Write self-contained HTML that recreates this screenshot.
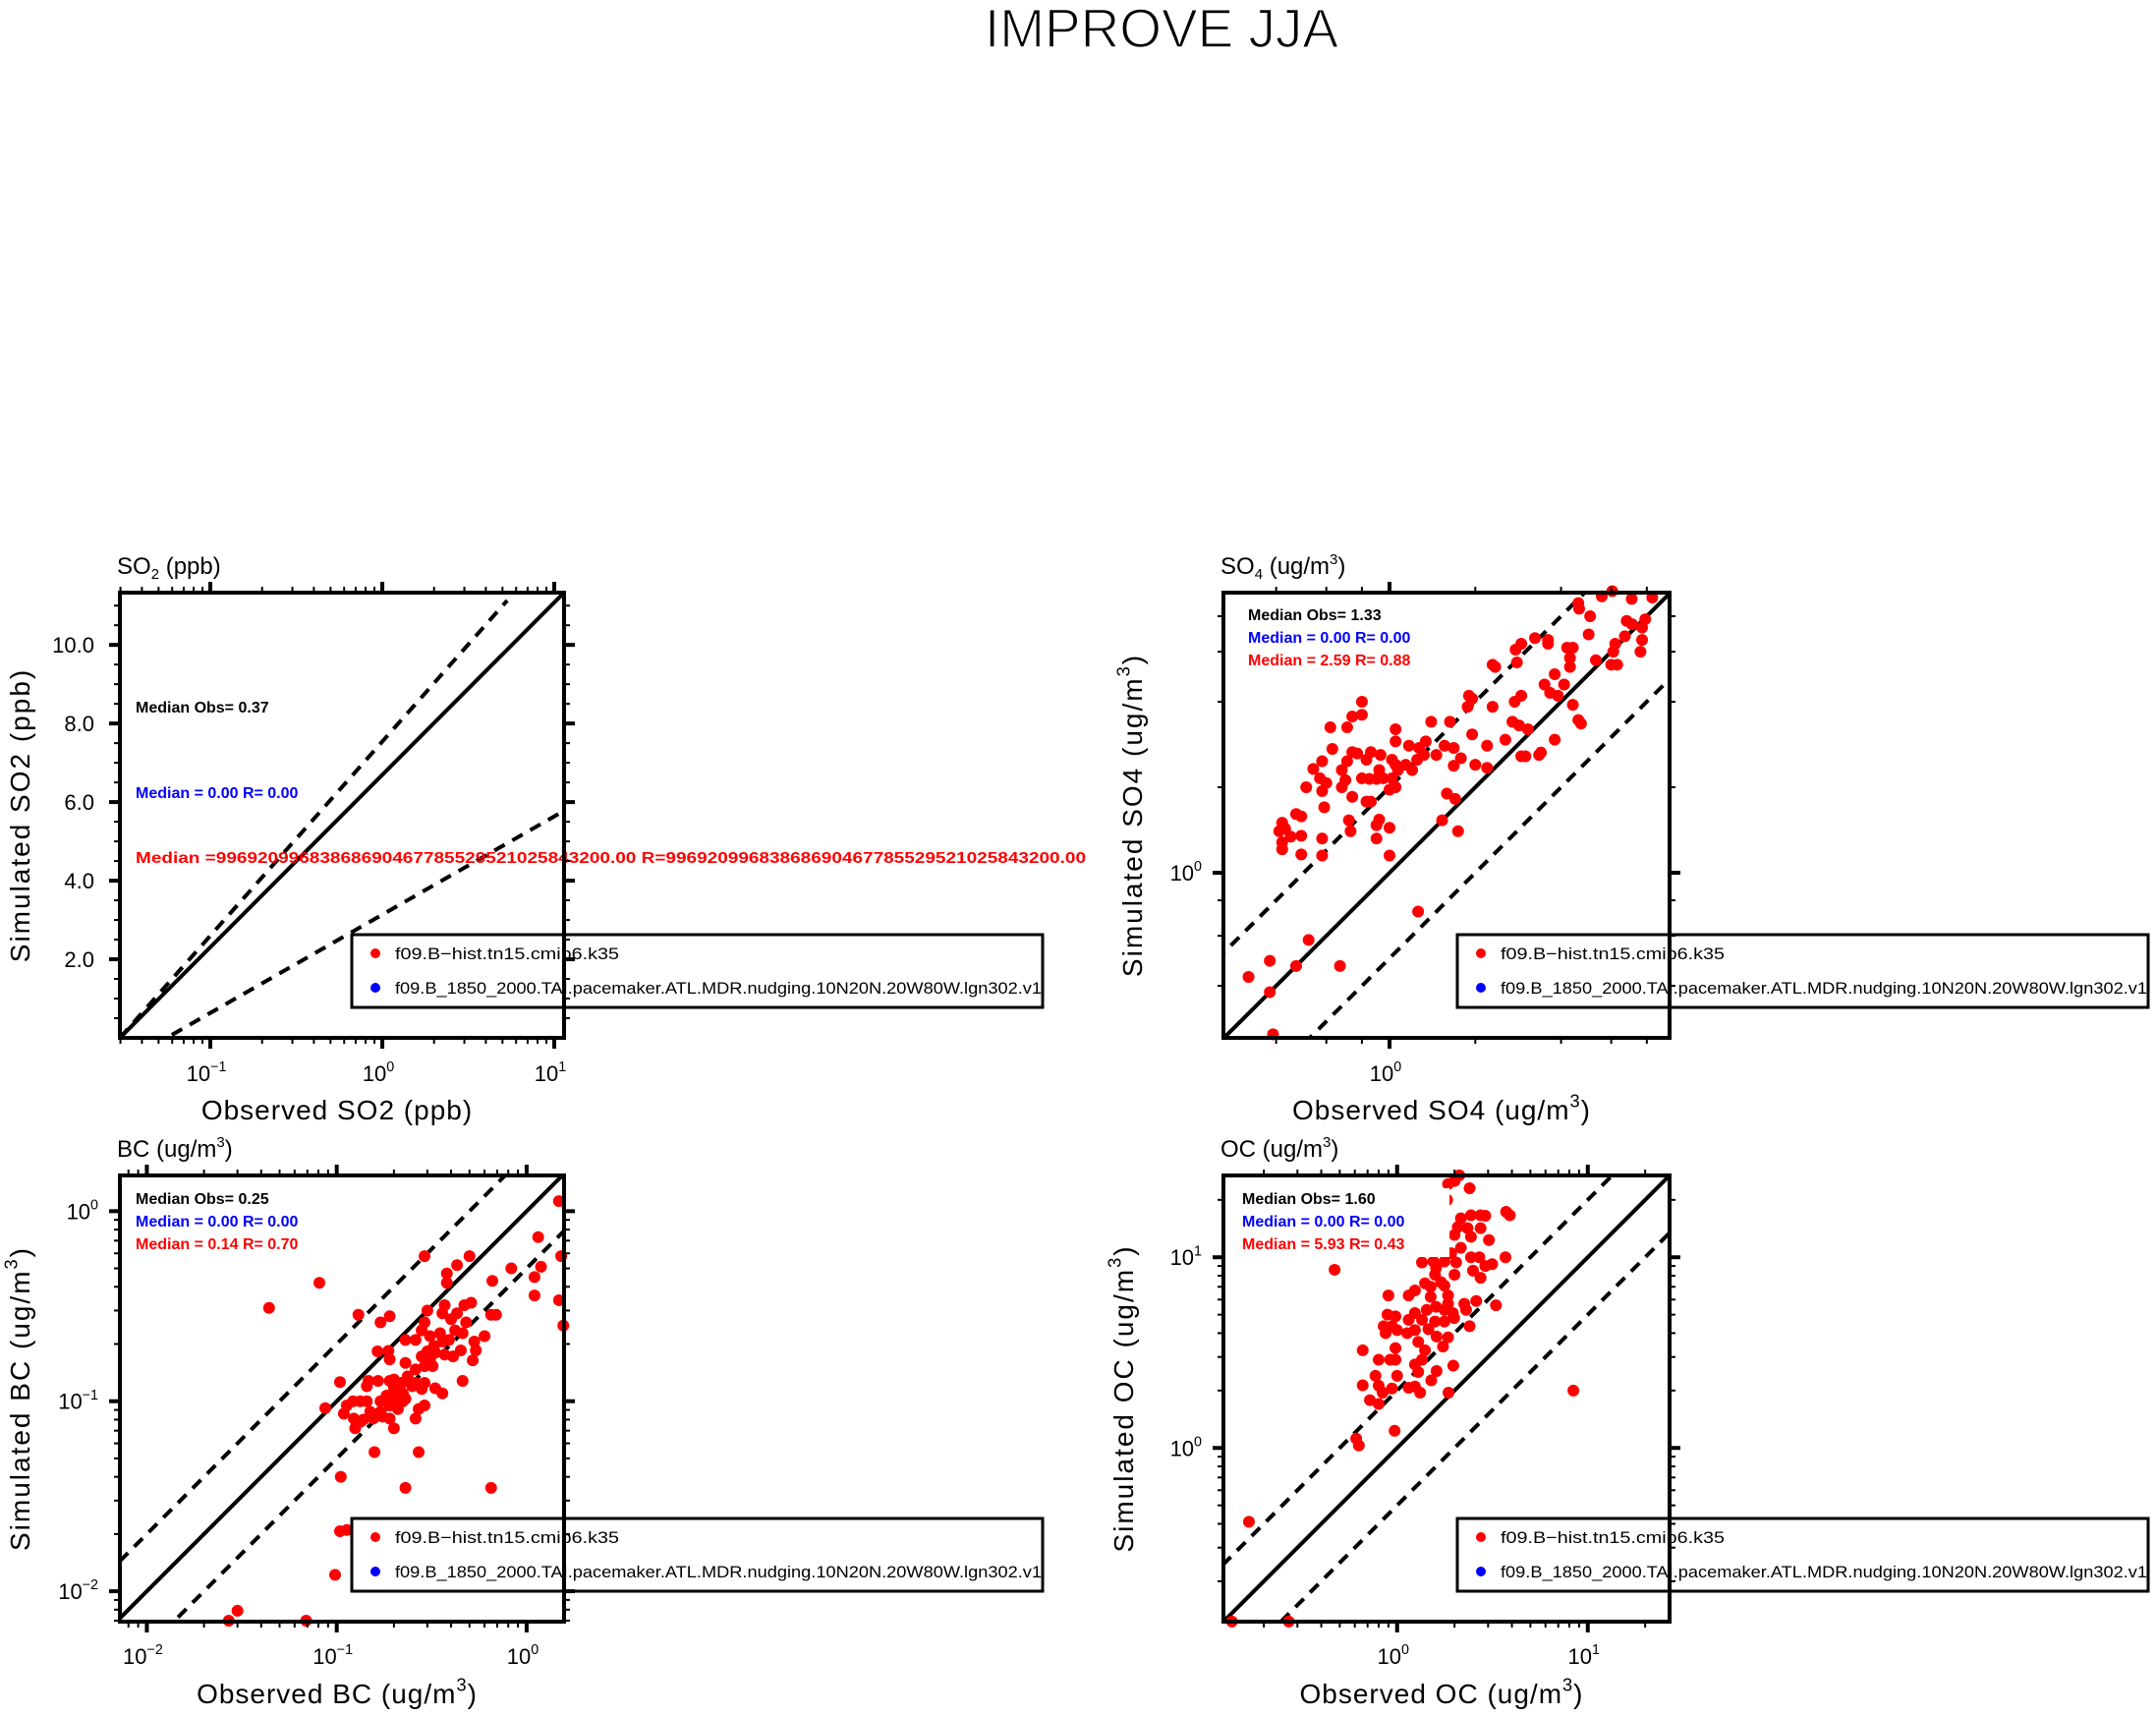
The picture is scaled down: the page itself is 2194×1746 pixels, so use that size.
<!DOCTYPE html>
<html><head><meta charset="utf-8"><style>
html,body{margin:0;padding:0;background:#fff;width:2194px;height:1746px;overflow:hidden}
svg{display:block;font-family:"Liberation Sans",sans-serif}
</style></head><body>
<svg id="fig" width="2194" height="1746" viewBox="0 0 2194 1746" xmlns="http://www.w3.org/2000/svg">
<rect width="2194" height="1746" fill="#fff"/>
<text x="1182" y="48" font-size="56" text-anchor="middle" textLength="360" lengthAdjust="spacingAndGlyphs" fill="#000" stroke="#fff" stroke-width="1.5" font-weight="normal">IMPROVE JJA</text>
<g id="root"></g>
</svg>
<script>
// ---- SO4 data ----
const so4Obs=[6.05,5.56,7.08,8.36,4.63,5.06,4.6,6.8,7.1,7.9,6.7,7.7,7.7,7.6,6.2,6.1,6.3,6.0,5.3,5.0,4.4,4.3,4.3,4.2,3.6,3.6,3.24,2.9,2.77,2.8,2.35,2.3,3.8,3.5,3.66,4.1,3.9,4.4,4.6,4.7,2.9,2.75,1.9,1.95,1.88,2.3,2.7,2.85,3.06,2.55,1.95,1.63,1.4,1.34,1.56,1.68,2.2,1.78,2.0,2.2,1.68,2.9,3.0,3.4,3.8,3.35,1.05,1.05,1.17,1.27,1.46,1.32,1.25,1.14,1.2,1.02,1.05,1.07,1.02,1.0,1.05,0.92,0.93,0.86,0.77,0.74,0.83,0.8,0.8,0.74,0.71,0.62,0.63,0.71,0.68,0.54,0.57,0.58,0.6,0.51,0.58,0.68,0.7,0.74,0.8,0.85,0.9,0.95,0.83,0.86,0.59,0.47,0.49,0.42,0.41,0.43,0.45,0.49,0.42,0.42,0.49,0.58,0.58,0.72,0.73,0.9,0.92,1.0,0.9,1.0,1.59,1.7,1.53,1.74,1.26,0.52,0.38,0.32,0.47,0.67,0.38,0.39];
const so4Sim=[9.8,9.4,9.2,9.3,8.5,8.0,8.9,7.7,7.5,7.8,6.8,7.3,6.6,6.0,6.4,6.0,5.4,5.4,5.6,6.9,6.2,5.7,5.3,6.2,6.6,6.4,6.7,6.4,6.1,5.5,5.3,5.4,5.0,4.6,4.3,4.6,4.2,3.9,3.45,3.35,4.2,4.0,4.2,4.1,3.84,3.84,3.4,3.3,3.2,2.94,3.07,3.4,3.4,2.9,2.8,2.75,2.8,2.53,2.4,2.34,2.38,2.57,2.57,2.65,2.94,2.6,3.2,2.9,2.8,2.75,2.6,2.6,2.5,2.4,2.3,2.5,2.4,2.3,2.15,1.96,2.0,2.3,2.6,2.66,2.63,2.66,2.5,3.6,4.0,3.55,3.25,3.25,2.73,2.47,2.3,2.32,2.15,2.47,2.07,2.0,1.94,2.0,2.12,1.85,2.15,2.14,2.14,2.15,1.78,1.78,1.7,1.61,1.58,1.5,1.4,1.43,1.34,1.35,1.28,1.21,1.16,1.15,1.32,1.53,1.4,1.47,1.54,1.44,1.32,1.15,1.9,1.82,1.53,1.4,0.73,0.58,0.49,0.43,0.47,0.47,0.38,0.27];
// ---- BC data ----
const bcObs=[1.48,1.15,1.52,1.19,1.1,1.1,1.48,1.56,0.83,0.66,0.65,0.69,0.6,0.54,0.52,0.46,0.5,0.43,0.38,0.38,0.29,0.081,0.044,0.13,0.17,0.19,0.37,0.47,0.51,0.43,0.48,0.40,0.3,0.29,0.28,0.36,0.42,0.46,0.53,0.45,0.41,0.37,0.36,0.325,0.30,0.28,0.31,0.29,0.26,0.23,0.26,0.23,0.164,0.187,0.19,0.32,0.29,0.28,0.26,0.236,0.22,0.33,0.36,0.25,0.223,0.2,0.2,0.183,0.19,0.165,0.147,0.144,0.2,0.223,0.23,0.21,0.19,0.17,0.17,0.15,0.144,0.133,0.122,0.113,0.109,0.123,0.133,0.125,0.138,0.156,0.174,0.19,0.2,0.26,0.27,0.29,0.104,0.087,0.158,0.27,0.105,0.23,0.65,0.104,0.113,0.098,0.030,0.027,0.069,0.31,0.35,0.39,0.33];
const bcSim=[1.13,0.73,0.58,0.51,0.45,0.36,0.34,0.25,0.50,0.43,0.285,0.285,0.22,0.185,0.164,0.128,0.58,0.52,0.47,0.42,0.58,0.42,0.31,0.285,0.26,0.28,0.32,0.32,0.33,0.29,0.26,0.27,0.3,0.26,0.236,0.29,0.236,0.228,0.206,0.185,0.172,0.176,0.206,0.195,0.183,0.172,0.165,0.153,0.147,0.159,0.21,0.21,0.183,0.184,0.166,0.153,0.125,0.116,0.125,0.135,0.125,0.117,0.11,0.12,0.11,0.13,0.117,0.107,0.128,0.128,0.128,0.12,0.103,0.1,0.103,0.091,0.095,0.1,0.088,0.088,0.1,0.1,0.1,0.095,0.086,0.081,0.078,0.072,0.08,0.081,0.083,0.081,0.072,0.081,0.091,0.095,0.126,0.092,0.054,0.054,0.040,0.035,0.035,0.0207,0.021,0.0122,0.0079,0.007,0.007,0.22,0.228,0.21,0.18];
// ---- OC data ----
const ocObs=[2.12,2.0,1.85,2.4,1.83,3.73,3.9,2.16,2.44,2.74,2.9,2.08,2.34,2.74,2.0,2.44,3.03,2.16,1.92,2.44,2.7,3.7,3.15,2.9,2.04,1.77,1.55,1.35,1.6,2.0,2.5,2.74,1.58,1.7,1.4,1.5,1.77,1.24,1.15,0.9,1.5,1.85,1.85,1.6,2.25,2.6,3.3,1.43,1.24,0.89,0.98,1.77,1.96,2.3,1.15,1.35,1.58,1.77,1.99,0.85,0.94,0.87,1.0,1.13,1.24,1.46,1.61,1.85,2.4,1.29,0.98,0.66,1.4,1.74,1.35,0.8,0.92,0.98,1.24,1.97,1.61,1.29,0.77,1.0,1.51,0.8,0.66,0.94,1.15,1.24,1.32,0.84,1.86,0.72,0.8,8.4,0.97,0.61,0.63,0.47,0.167,0.136,0.27];
const ocSim=[26.9,25.1,24.2,23,20,17.3,16.6,16,16.6,16.6,16.5,14.4,14.2,14.2,13.1,12.8,12.3,11.2,10.5,10,10,10,9.2,9.0,9.4,9.5,9.5,9.4,8.8,8.1,8.5,7.8,8.1,7.4,7.3,7.0,7.1,6.7,6.3,6.3,6.2,6.3,5.7,5.5,5.7,5.9,5.6,5.3,5.1,5.0,4.9,5.3,5.1,5.3,4.7,4.7,4.6,4.6,4.8,4.35,4.35,4.0,4.15,4.0,4.15,4.2,3.84,3.8,4.35,3.6,3.34,3.25,3.25,3.4,2.9,2.9,2.9,2.9,2.74,2.7,2.53,2.5,2.39,2.39,2.26,2.12,2.13,2.05,2.07,2.1,1.95,1.95,1.95,1.78,1.7,2.0,1.23,1.12,1.03,8.6,0.41,0.123,0.123];
// ---- tick / label arrays ----
const so2YTicks=[2,4,6,8,10];
const so2YLabels=["2.0","4.0","6.0","8.0","10.0"];
const so2XDecades=[-1,0,1];
const so4Decades=[0];
const bcDecades=[-2,-1,0];
const ocDecades=[0,1];

const NS="http://www.w3.org/2000/svg";
const root=document.getElementById('root');
function mk(tag,attrs,parent){const e=document.createElementNS(NS,tag);for(const k in attrs)e.setAttribute(k,attrs[k]);(parent||root).appendChild(e);return e;}

const panels=[
 {key:'so2',x0:122,x1:574,y0:603,y1:1056,xl:[-1.526,1.057],ylin:[0,11.33],xDec:so2XDecades,minorAll:true,
  title:['SO','2',' (ppb)'],titleX:119,titleY:584,ytitle:'Simulated SO2 (ppb)',xtitle:'Observed SO2 (ppb)',xtSup:false,
  stats:[['Median Obs= 0.37','#000',725],['Median = 0.00 R= 0.00','#00f',812],['Median =99692099683868690467785529521025843200.00 R=99692099683868690467785529521025843200.00','#f00',878]],statX:138,legX:358,legY:951},
 {key:'so4',x0:1245,x1:1699,y0:603,y1:1056,xl:[-0.583,0.983],yl:[-0.581,0.986],xDec:so4Decades,yDec:so4Decades,minorAll:false,
  title:['SO','4',' (ug/m','3',')'],titleX:1242,titleY:584,ytitle:'Simulated SO4 (ug/m',xtitle:'Observed SO4 (ug/m',xtSup:true,
  stats:[['Median Obs= 1.33','#000',631],['Median = 0.00 R= 0.00','#00f',654],['Median = 2.59 R= 0.88','#f00',677]],statX:1270,legX:1483,legY:951,
  obs:so4Obs,sim:so4Sim},
 {key:'bc',x0:122,x1:574,y0:1196,y1:1650,xl:[-2.142,0.197],yl:[-2.16,0.188],xDec:bcDecades,yDec:bcDecades,minorAll:true,
  title:['BC (ug/m','3',')'],titleX:119,titleY:1177,ytitle:'Simulated BC (ug/m',xtitle:'Observed BC (ug/m',xtSup:true,
  stats:[['Median Obs= 0.25','#000',1225],['Median = 0.00 R= 0.00','#00f',1248],['Median = 0.14 R= 0.70','#f00',1271]],statX:138,legX:358,legY:1545,
  obs:bcObs,sim:bcSim},
 {key:'oc',x0:1245,x1:1699,y0:1196,y1:1650,xl:[-0.911,1.429],yl:[-0.911,1.429],xDec:ocDecades,yDec:ocDecades,minorAll:true,
  title:['OC (ug/m','3',')'],titleX:1242,titleY:1177,ytitle:'Simulated OC (ug/m',xtitle:'Observed OC (ug/m',xtSup:true,
  stats:[['Median Obs= 1.60','#000',1225],['Median = 0.00 R= 0.00','#00f',1248],['Median = 5.93 R= 0.43','#f00',1271]],statX:1264,legX:1483,legY:1545,
  obs:ocObs,sim:ocSim,whiteBox:true}
];

function sup(t,base,supTxt,size){
  const a=mk('tspan',{},t);a.textContent=base;
  const b=mk('tspan',{dy:-size*0.45,'font-size':size*0.65},t);b.textContent=supTxt;
}
panels.forEach(p=>{
  const g=mk('g',{});
  
  
  const W=p.x1-p.x0,H=p.y1-p.y0;
  const sx=v=>p.x0+(Math.log10(v)-p.xl[0])/(p.xl[1]-p.xl[0])*W;
  const sy=p.ylin?(v=>p.y1-(v-p.ylin[0])/(p.ylin[1]-p.ylin[0])*H):(v=>p.y1-(Math.log10(v)-p.yl[0])/(p.yl[1]-p.yl[0])*H);
  const cid='clip-'+p.key;
  const cp=mk('clipPath',{id:cid},g);mk('rect',{x:p.x0,y:p.y0,width:W,height:H},cp);
  const lg=mk('g',{'clip-path':'url(#'+cid+')'},g);
  if(p.ylin){
    const l1=mk('line',{x1:p.x0,y1:p.y1,x2:p.x1,y2:p.y0,stroke:'#000','stroke-width':4},lg);
    
    const l2=mk('line',{x1:p.x0,y1:p.y1,x2:p.x0+W*0.872,y2:p.y0+8,stroke:'#000','stroke-width':4,'stroke-dasharray':'12 9'},lg);
    
    const l3=mk('line',{x1:p.x0+W*0.117,y1:p.y1-3,x2:p.x1,y2:p.y0+H*0.49,stroke:'#000','stroke-width':4,'stroke-dasharray':'12 9'},lg);
    
  } else {
    const a=Math.pow(10,p.xl[0]-1),b=Math.pow(10,p.xl[1]+1);
    [[1,'one-to-one-line',null],[2,'upper-dashed-line','12 9'],[0.5,'lower-dashed-line','12 9']].forEach(([f,n,d])=>{
      const l=mk('line',{x1:sx(a),y1:sy(a*f),x2:sx(b),y2:sy(b*f),stroke:'#000','stroke-width':4},lg);
      if(d)l.setAttribute('stroke-dasharray',d);
      
      
    });
  }
  if(p.obs){
    const pg=mk('g',{},g);
    
    
    p.obs.forEach((o,i)=>{
      const c=mk('circle',{cx:sx(o),cy:sy(p.sim[i]),r:6,fill:'#f00'},pg);
      
      
    });
  }
  if(p.whiteBox){mk('rect',{x:p.statX-4,y:p.stats[0][2]-16,width:215,height:70,fill:'#fff'},g);}
  p.stats.forEach((s,i)=>{
    const t=mk('text',{x:p.statX,y:s[2],'font-size':16,'font-weight':'bold',fill:s[1]},g);
    if(s[0].length>40){t.setAttribute('textLength',967);t.setAttribute('lengthAdjust','spacingAndGlyphs');}
    t.textContent=s[0];
    
    
  });
  const lgd=mk('g',{},g);
  
  
  mk('rect',{x:p.legX,y:p.legY,width:703,height:74,fill:'none',stroke:'#000','stroke-width':3},lgd);
  [['f09.B\u2212hist.tn15.cmip6.k35','#f00',228],['f09.B_1850_2000.TAI.pacemaker.ATL.MDR.nudging.10N20N.20W80W.lgn302.v1','#00f',658]].forEach((e,i)=>{
    const yy=p.legY+19+i*35;
    const c=mk('circle',{cx:p.legX+24,cy:yy,r:5,fill:e[1]},lgd);
    
    
    const t=mk('text',{x:p.legX+44,y:yy+6,'font-size':17,fill:'#000',textLength:e[2],lengthAdjust:'spacingAndGlyphs'},lgd);
    t.textContent=e[0];
    
    
  });
  const fr=mk('rect',{x:p.x0,y:p.y0,width:W,height:H,fill:'none',stroke:'#000','stroke-width':4},g);
  
  
  const tg=mk('g',{stroke:'#000'},g);
  const xd0=Math.floor(p.xl[0]),xd1=Math.ceil(p.xl[1]);
  for(let d=xd0;d<=xd1;d++){for(let m=1;m<10;m++){
    if(!p.minorAll && m>1 && m%2)continue;
    const v=m*Math.pow(10,d),lv=Math.log10(v);
    if(lv<p.xl[0]||lv>p.xl[1])continue;
    const x=sx(v),L=m===1?11:6,w=m===1?4:2;
    mk('line',{x1:x,y1:p.y1,x2:x,y2:p.y1+L,'stroke-width':w},tg);
    mk('line',{x1:x,y1:p.y0,x2:x,y2:p.y0-L,'stroke-width':w},tg);
  }}
  if(p.ylin){
    for(let v=0.5;v<p.ylin[1];v+=0.5){
      const y=sy(v),maj=Math.abs(v%2)<1e-6,L=maj?11:6,w=maj?4:2;
      mk('line',{x1:p.x0,y1:y,x2:p.x0-L,y2:y,'stroke-width':w},tg);
      mk('line',{x1:p.x1,y1:y,x2:p.x1+L,y2:y,'stroke-width':w},tg);
    }
  } else {
    const yd0=Math.floor(p.yl[0]),yd1=Math.ceil(p.yl[1]);
    for(let d=yd0;d<=yd1;d++){for(let m=1;m<10;m++){
      if(!p.minorAll && m>1 && m%2)continue;
      const v=m*Math.pow(10,d),lv=Math.log10(v);
      if(lv<p.yl[0]||lv>p.yl[1])continue;
      const y=sy(v),L=m===1?11:6,w=m===1?4:2;
      mk('line',{x1:p.x0,y1:y,x2:p.x0-L,y2:y,'stroke-width':w},tg);
      mk('line',{x1:p.x1,y1:y,x2:p.x1+L,y2:y,'stroke-width':w},tg);
    }}
  }
  p.xDec.forEach(d=>{
    const t=mk('text',{x:sx(Math.pow(10,d))-4,y:1100+(p.y0>1000?593:0),'font-size':22,'text-anchor':'middle',fill:'#000'},g);
    sup(t,'10',d<0?'\u2212'+(-d):String(d),22);
    
    
  });
  if(p.ylin){
    so2YTicks.forEach((v,i)=>{
      const t=mk('text',{x:p.x0-26,y:sy(v)+8,'font-size':22,'text-anchor':'end',fill:'#000'},g);
      t.textContent=so2YLabels[i];
      
      
    });
  } else {
    p.yDec.forEach(d=>{
      const t=mk('text',{x:p.x0-22,y:sy(Math.pow(10,d))+8,'font-size':22,'text-anchor':'end',fill:'#000'},g);
      sup(t,'10',d<0?'\u2212'+(-d):String(d),22);
      
      
    });
  }
  const tt=mk('text',{x:p.titleX,y:p.titleY,'font-size':24,fill:'#000'},g);
  p.title.forEach((s,i)=>{
    const isSub=(p.key==='so2'||p.key==='so4')&&i===1;
    const isSup=(s==='3');
    const a=mk('tspan',{},tt);a.textContent=s;
    if(isSub){a.setAttribute('font-size',15);a.setAttribute('dy',5);}
    else if(isSup){a.setAttribute('font-size',15);a.setAttribute('dy',-10);}
    else if(i>0){a.setAttribute('dy',(p.title[i-1]==='3')?10:-5*((p.key==='so2'||p.key==='so4')&&i===2?1:0));}
  });
  
  
  const cx=(p.x0+p.x1)/2,cy=(p.y0+p.y1)/2;
  const xt=mk('text',{x:cx-5,y:p.y1+83,'font-size':28,'text-anchor':'middle','letter-spacing':1,fill:'#000'},g);
  if(p.xtSup){sup(xt,p.xtitle,'3',28);const c=mk('tspan',{dy:28*0.45},xt);c.textContent=')';}else xt.textContent=p.xtitle;
  
  
  const ytx=p.x0-(p.ylin?92:p.key==='so4'?83:92);
  const yt=mk('text',{x:ytx,y:cy,'font-size':28,'text-anchor':'middle','letter-spacing':2,fill:'#000',transform:'rotate(-90 '+ytx+' '+cy+')'},g);
  if(p.xtSup){sup(yt,p.ytitle,'3',28);const c=mk('tspan',{dy:28*0.45},yt);c.textContent=')';}else yt.textContent=p.ytitle;
  
  
});
</script>
</body></html>
